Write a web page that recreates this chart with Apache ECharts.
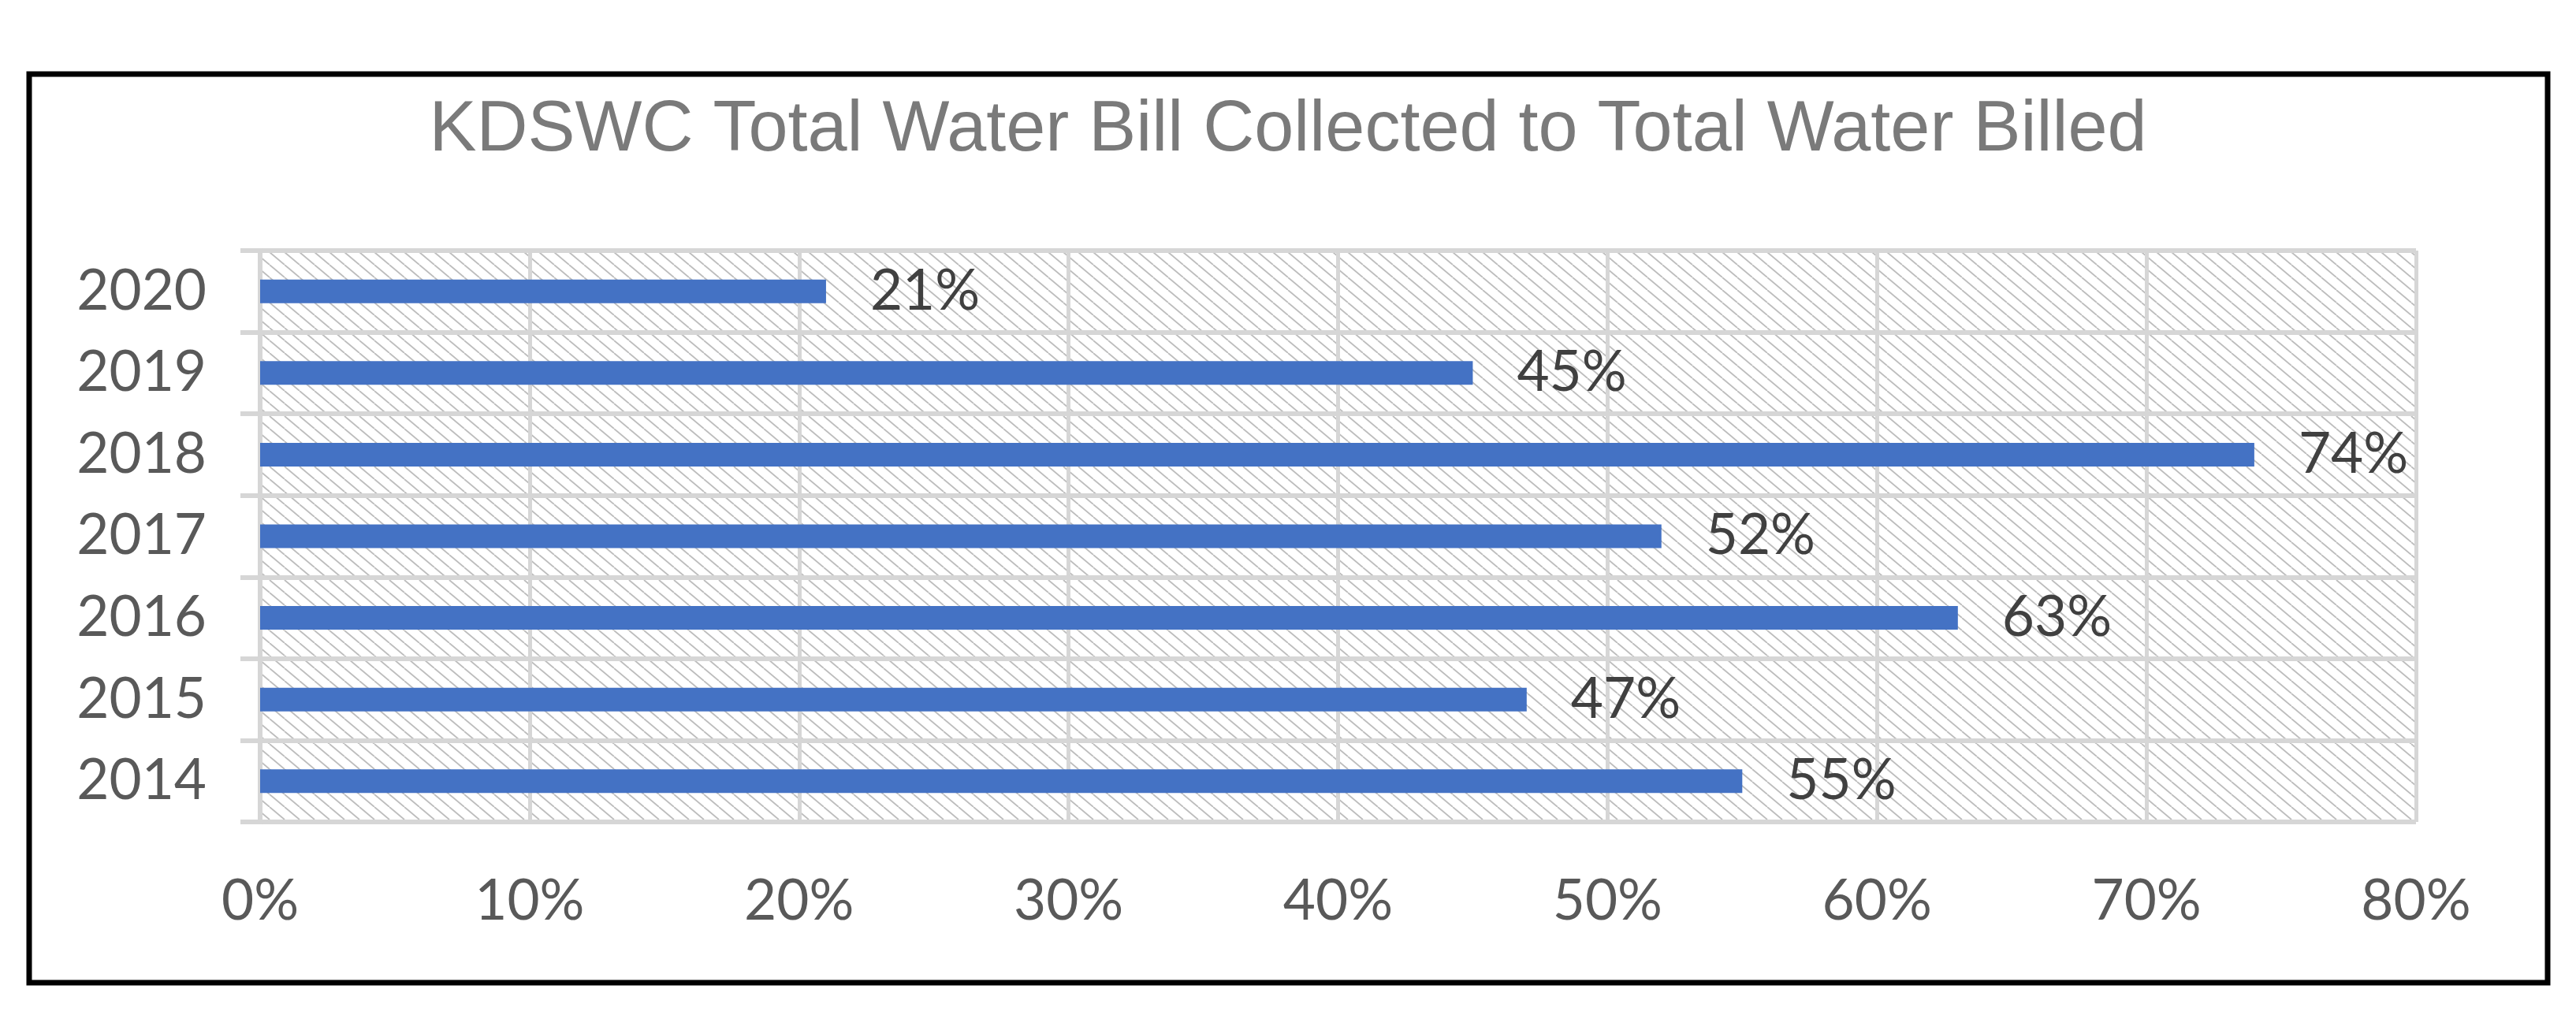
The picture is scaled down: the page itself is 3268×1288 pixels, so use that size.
<!DOCTYPE html>
<html>
<head>
<meta charset="utf-8">
<script src="https://cdn.jsdelivr.net/npm/echarts@6/dist/echarts.min.js"></script>
<style>
html,body{margin:0;padding:0;background:#fff;}
#c{width:3268px;height:1288px;}
</style>
</head>
<body>
<div id="c"></div>
<script>
const titleText = 'KDSWC Total Water Bill Collected to Total Water Billed';
const categories = ['2014', '2015', '2016', '2017', '2018', '2019', '2020'];
const values = [55, 47, 63, 52, 74, 45, 21];
const xTicks = { min: 0, max: 80, interval: 10 };

// hatch pattern for plot background
function makeHatch() {
  const W = 19, H = 16;
  const cv = document.createElement('canvas');
  cv.width = W; cv.height = H;
  const ctx = cv.getContext('2d');
  ctx.fillStyle = '#ffffff';
  ctx.fillRect(0, 0, W, H);
  ctx.strokeStyle = '#bdbdbd';
  ctx.lineWidth = 1.8;
  for (const x0 of [-W, 0, W]) {
    ctx.beginPath();
    ctx.moveTo(x0, 0);
    ctx.lineTo(x0 + W, H);
    ctx.stroke();
  }
  return cv;
}

const chart = echarts.init(document.getElementById('c'), null, { renderer: 'canvas' });
const gridLine = '#d6d6d6';
const labelFont = 'Lato, "Open Sans", sans-serif';

chart.setOption({
  animation: false,
  backgroundColor: '#ffffff',
  title: {
    text: titleText,
    left: 'center',
    top: 116,
    textStyle: {
      fontFamily: '"Liberation Sans", Arial, sans-serif',
      fontSize: 90,
      fontWeight: 'normal',
      color: '#7a7a7a'
    }
  },
  graphic: [{
    type: 'rect',
    shape: { x: 37, y: 94, width: 3195, height: 1153 },
    style: { fill: 'none', stroke: '#000', lineWidth: 7 },
    z: 100
  }],
  grid: {
    left: 330, right: 203, top: 318, bottom: 245,
    show: true,
    borderWidth: 0,
    backgroundColor: { image: makeHatch(), repeat: 'repeat' }
  },
  xAxis: {
    type: 'value',
    min: xTicks.min, max: xTicks.max, interval: xTicks.interval,
    axisLine: { show: false },
    axisTick: { show: false },
    splitLine: { show: true, lineStyle: { color: gridLine, width: 5 } },
    axisLabel: {
      formatter: '{value}%',
      margin: 66,
      fontFamily: labelFont,
      fontSize: 71,
      color: '#595959'
    }
  },
  yAxis: {
    type: 'category',
    data: categories,
    axisLine: { show: true, lineStyle: { color: gridLine, width: 6 } },
    axisTick: { show: true, length: 25, lineStyle: { color: gridLine, width: 6 } },
    splitLine: { show: true, lineStyle: { color: gridLine, width: 6 } },
    axisLabel: {
      margin: 68,
      fontFamily: labelFont,
      fontSize: 71,
      color: '#595959'
    }
  },
  series: [{
    type: 'bar',
    data: values,
    barWidth: 30,
    itemStyle: { color: '#4472C4' },
    label: {
      show: true,
      position: 'right',
      distance: 56,
      formatter: '{c}%',
      fontFamily: labelFont,
      fontSize: 71,
      color: '#404040'
    }
  }]
});
</script>
</body>
</html>
